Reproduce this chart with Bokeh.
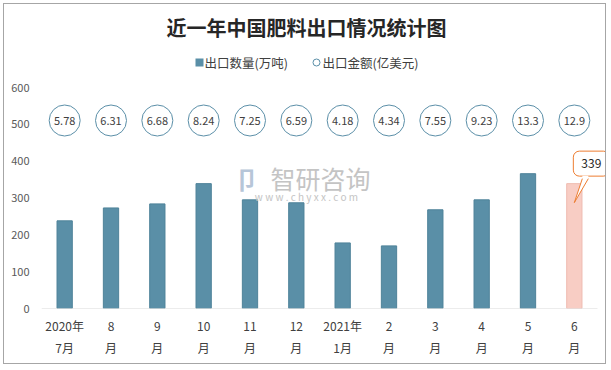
import numpy as np
from bokeh.plotting import figure
from bokeh.models import Range1d, FixedTicker, Label, ColumnDataSource
from bokeh.core.properties import value
from bokeh.embed import file_html
from bokeh.resources import INLINE

# ---------------- data ----------------
months = ["2020年\n7月", "8\n月", "9\n月", "10\n月", "11\n月", "12\n月",
          "2021年\n1月", "2\n月", "3\n月", "4\n月", "5\n月", "6\n月"]
volume = [238, 273, 284, 339, 295, 287, 178, 170, 268, 295, 366, 339]   # 万吨
amount = [5.78, 6.31, 6.68, 8.24, 7.25, 6.59, 4.18, 4.34, 7.55, 9.23, 13.3, 12.9]  # 亿美元
y_ticks = [0, 100, 200, 300, 400, 500, 600]
title_text = "近一年中国肥料出口情况统计图"
legend_labels = ["出口数量(万吨)", "出口金额(亿美元)"]

FONT = "Noto Sans CJK SC"
BAR = "#5a8fa7"
PINK = "#f8cdc4"
ORANGE = "#ed7d31"
CIRC = "#5b8fa8"

# ---------------- layout ----------------
M = 3                          # outer margin
W, H = 603, 361                # canvas size (inside 1px border)
FL, FR, FT, FB = 37, 0, 2, 57
OX, OY = M + 1, M + 1          # canvas origin on page
frame_w = W - FL - FR
frame_h = H - FT - FB
n = len(months)
ppu = 221.0 / 600.0            # pixels per value unit
xpu = 556.0 / n                # pixels per category
y_end = frame_h / ppu
x_end = 0.5 + frame_w / xpu


def dx(px):
    return 0.5 + (px - OX - FL) / xpu


def dy(py):
    return (OY + FT + frame_h - py) / ppu


p = figure(width=W, height=H, output_backend="svg", toolbar_location=None,
           x_range=Range1d(0.5, x_end), y_range=Range1d(0, y_end),
           min_border_left=FL, min_border_right=FR, min_border_top=FT,
           min_border_bottom=FB, outline_line_color=None,
           background_fill_color="white", border_fill_color="white",
           styles={"border": "1px solid #a6a6a6", "margin": f"{M}px"})
p.grid.visible = False

x = np.arange(1, n + 1)
colors = [BAR] * (n - 1) + [PINK]
lcolors = ["#4e8299"] * (n - 1) + ["#efbcb1"]
src = ColumnDataSource(dict(x=x, v=volume, c=colors, lc=lcolors))
p.vbar(x="x", top="v", width=0.33, fill_color="c", line_color="lc",
       line_width=1, source=src)

# category axis base line (only across the categories)
p.segment(x0=[0.5], y0=[0], x1=[n + 0.5], y1=[0], line_color="#d9d9d9", line_width=1)

# amount bubbles
yc = dy(120)
p.scatter(x, [yc] * n, size=31, marker="circle", fill_color="white",
          line_color=CIRC, line_width=1)
p.text(x, [yc] * n, text=[f"{a:g}" for a in amount], text_align="center",
       text_baseline="middle", text_font=value(FONT), text_font_size="11px",
       text_color="#404040")

# axes
xa = p.xaxis[0]
xa.ticker = FixedTicker(ticks=list(x))
xa.major_label_overrides = {int(i): m for i, m in zip(x, months)}
xa.axis_line_color = None
xa.major_tick_line_color = None
xa.minor_tick_line_color = None
xa.major_label_text_font = FONT
xa.major_label_text_font_size = "12px"
xa.major_label_text_color = "#404040"
xa.major_label_text_line_height = 1.35
xa.major_label_standoff = 2

ya = p.yaxis[0]
ya.ticker = FixedTicker(ticks=y_ticks)
ya.axis_line_color = None
ya.major_tick_line_color = None
ya.minor_tick_line_color = None
ya.major_label_text_font = FONT
ya.major_label_text_font_size = "11px"
ya.major_label_text_color = "#595959"
ya.major_label_standoff = 6

# title
p.add_layout(Label(x=dx(306), y=dy(27), text=title_text, text_align="center",
                   text_baseline="middle", text_font=FONT, text_font_size="20px",
                   text_font_style="bold", text_color="#262626"))

# legend
ly = dy(62)
p.scatter([dx(199)], [ly], marker="square", size=8, fill_color=BAR, line_color=None)
p.text([dx(204)], [ly], text=[legend_labels[0]], text_align="left", text_baseline="middle",
       text_font=value(FONT), text_font_size="12.5px", text_color="#404040")
p.scatter([dx(316)], [ly], marker="circle", size=7, fill_color="white",
          line_color=CIRC, line_width=1)
p.text([dx(322)], [ly], text=[legend_labels[1]], text_align="left", text_baseline="middle",
       text_font=value(FONT), text_font_size="12.5px", text_color="#404040")

# watermark
p.add_layout(Label(x=dx(320), y=dy(177), text="智研咨询", text_align="center",
                   text_baseline="middle", text_font=FONT, text_font_size="25px",
                   text_color="#c4c4c4"))
p.add_layout(Label(x=dx(306), y=dy(196), text="w w w . c h y x x . c o m",
                   text_align="center", text_baseline="middle", text_font=FONT,
                   text_font_size="10px", text_color="#c4c4c4"))
p.add_layout(Label(x=dx(246), y=dy(178), text="卩", text_align="center",
                   text_baseline="middle", text_font=FONT, text_font_size="24px",
                   text_color="#b7c6d8", text_font_style="bold"))

# callout for last bar
lx, lv = x[-1], volume[-1]
p.add_layout(Label(x=lx, y=lv, x_offset=17, y_offset=20, text=str(lv),
                   text_align="center", text_baseline="middle", text_font=FONT,
                   text_font_size="12px", text_color="#262626",
                   background_fill_color="white", border_line_color=ORANGE,
                   border_line_width=1, padding=8, border_radius=6))
tip_y = lv - 19 / ppu
base_y = lv + 5 / ppu
in_y = lv + 8 / ppu
bx0, bx1 = lx + 8 / xpu, lx + 14 / xpu
p.patch([lx, bx0, bx0, bx1, bx1], [tip_y, base_y, in_y, in_y, base_y],
        fill_color="white", line_color=None, level="overlay")
p.multi_line([[lx, bx0], [lx, bx1]], [[tip_y, base_y], [tip_y, base_y]],
             line_color=ORANGE, line_width=1, level="overlay")

open("out.html", "w").write(file_html(p, INLINE))
